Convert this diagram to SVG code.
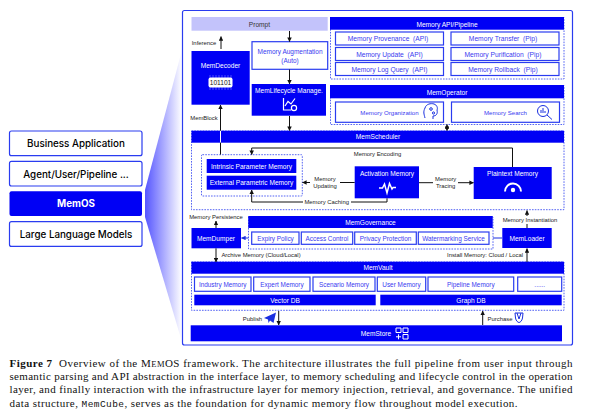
<svg xmlns="http://www.w3.org/2000/svg" width="592" height="419" viewBox="0 0 592 419">
<defs>
<linearGradient id="fan" x1="0" y1="0" x2="1" y2="0"><stop offset="0" stop-color="#5555ff"/><stop offset="1" stop-color="#ffffff"/></linearGradient>
<marker id="ah" viewBox="0 0 6 6" refX="5.5" refY="3" markerWidth="4.5" markerHeight="4.5" orient="auto-start-reverse" markerUnits="userSpaceOnUse"><path d="M0 0L6 3L0 6z" fill="#111"/></marker>
<marker id="ab" viewBox="0 0 6 6" refX="5.5" refY="3" markerWidth="4.5" markerHeight="4.5" orient="auto-start-reverse" markerUnits="userSpaceOnUse"><path d="M0 0L6 3L0 6z" fill="#1a2fe0"/></marker>
</defs>
<style>
text{font-family:"Liberation Sans","Noto Sans",sans-serif;text-anchor:middle;dominant-baseline:central;white-space:pre}
.f{fill:#0000f5}
.o{fill:#fff;stroke:#2a3cf0;stroke-width:1.2}
.d{fill:#fff;stroke:#2a3cf0;stroke-width:.8;stroke-dasharray:1.6 1.2}
.w{fill:#fff;font-size:6.6px}
.b{fill:#3a3af0;font-size:6.4px}
.a{fill:#3a3af0;font-size:6.1px}
.p{fill:#3a3af0;font-size:6.7px}
.k{fill:#222;font-size:5.9px}
.c{fill:none;stroke:#111;stroke-width:1}
.cb{fill:none;stroke:#1a2fe0;stroke-width:1}
.cap{font-family:"Liberation Serif",serif;font-size:11px;text-anchor:start;dominant-baseline:auto;fill:#111}
.i{fill:none;stroke:#fff;stroke-width:1.2}
.ib{fill:none;stroke:#1a2fe0;stroke-width:1}
.l{font-family:Inter,"Liberation Sans",sans-serif;fill:#000;font-size:9.8px;font-weight:500}
</style>
<polygon points="145,190 182,50 182,342 145,217" fill="url(#fan)"/>
<rect x="182.500" y="10.500" width="390" height="334.500" rx="2" fill="#fff" stroke="#2a3cf0" stroke-width="1.200"/>

<g id="left-stack">
<g id="business-application"><rect class="o" x="9.500" y="131" width="132.500" height="24.700" rx="2"/><text class="l" x="76" y="143.500">Business Application</text></g>
<g id="agent-user-pipeline"><rect class="o" x="9.500" y="161.300" width="132.500" height="24.700" rx="2"/><text class="l" x="76" y="174">Agent/User/Pipeline ...</text></g>
<g id="memos"><rect class="f" x="9.500" y="191.300" width="132.500" height="24.700" rx="2"/><text class="l" x="76" y="203.500" style="fill:#fff;font-weight:700">MemOS</text></g>
<g id="large-language-models"><rect class="o" x="9.500" y="221.700" width="132.500" height="24.700" rx="2"/><text class="l" x="76" y="234.500">Large Language Models</text></g>
</g>

<g id="prompt"><rect x="191.500" y="17" width="136.200" height="13.700" fill="#c3c3fb"/><text x="259.500" y="24" style="font-size:6.600px;fill:#333">Prompt</text></g>

<g id="memory-api-pipeline">
<rect class="d" x="330.500" y="17.500" width="233.500" height="61.500"/>
<rect class="f" x="330" y="17" width="234" height="12.700"/><text class="w" x="447" y="24">Memory API/Pipeline</text>
<rect class="o" x="335.500" y="32" width="108" height="13"/><text class="p" x="388" y="38.700">Memory Provenance  (API)</text>
<rect class="o" x="335.500" y="47.500" width="108" height="13"/><text class="p" x="389.500" y="54">Memory Update  (API)</text>
<rect class="o" x="335.500" y="62.500" width="108" height="13"/><text class="p" x="389.500" y="69">Memory Log Query  (API)</text>
<rect class="o" x="451" y="32" width="108" height="13"/><text class="p" x="503" y="38.700">Memory Transfer  (Pip)</text>
<rect class="o" x="451" y="47.500" width="108" height="13"/><text class="p" x="503" y="54">Memory Purification  (Pip)</text>
<rect class="o" x="451" y="62.500" width="108" height="13"/><text class="p" x="503" y="69">Memory Rollback  (Pip)</text>
</g>

<g id="memoperator">
<rect class="d" x="330.500" y="85.500" width="233.500" height="39"/>
<rect class="f" x="330" y="85" width="234" height="13.300"/><text class="w" x="447" y="92">MemOperator</text>
<rect class="o" x="335.500" y="102" width="108" height="20.300"/><text class="a" x="389.500" y="112">Memory Organization</text>
<path class="ib" d="M425 118C424 114 423 112 425 108C426 104 431 103 434 104C437 105 438 108 437 110C438 114 436 116 433 116L433 119"/><circle class="ib" cx="431" cy="109" r="1.300"/><circle class="ib" cx="433.500" cy="113" r="1.100"/>
<rect class="o" x="451.500" y="102" width="108" height="20.300"/><text class="a" x="505.500" y="112">Memory Search</text>
<circle class="ib" cx="543" cy="111" r="5.500" stroke-width="1.300"/><path class="ib" d="M547 115L552 119.500" stroke-width="1.500"/><path class="ib" d="M541 113V110M543 113V108M545 113V111"/>
</g>

<g id="memdecoder"><rect class="f" x="191.500" y="51" width="58.200" height="53.700"/><text class="w" x="220.500" y="65.500">MemDecoder</text>
<path d="M210 75v15M213 75v15M216 75v15M219 75v15M222 75v15M225 75v15M228 75v15M231 75v15" stroke="#9a9aff" stroke-width=".5"/>
<rect x="208.500" y="77.500" width="24" height="10" rx="2" fill="#fff"/><text x="220.500" y="82.700" style="font-size:6.600px;fill:#111">101101</text></g>

<g id="memory-augmentation"><rect class="o" x="252" y="41.700" width="75.700" height="27.600"/><text class="b" x="290" y="51.500" style="font-size:6.500px">Memory Augmentation</text><text class="b" x="290" y="60">(Auto)</text></g>

<g id="memlifecycle"><rect class="f" x="251.700" y="84" width="74.300" height="31.700"/><text class="w" x="289" y="90">MemLifecycle Manage.</text>
<path class="i" d="M283.500 98V110H291M285 106L288 101.500L291 104L295 98.500"/><circle class="i" cx="294" cy="108" r="2.600" stroke-width=".9"/></g>

<g id="memscheduler">
<rect class="d" x="191.500" y="131" width="372.500" height="78.700"/>
<rect class="f" x="191.500" y="130.700" width="372.500" height="12"/><text class="w" x="378" y="136.700">MemScheduler</text>
</g>

<g id="parameter-memory">
<rect class="d" x="201.500" y="154.700" width="100.800" height="41.300" rx="1"/>
<g id="intrinsic-parameter-memory"><rect class="f" x="206.700" y="159" width="89.600" height="14"/><text class="w" x="251.500" y="166">Intrinsic Parameter Memory</text></g>
<g id="external-parametric-memory"><rect class="f" x="206.700" y="175.700" width="89.600" height="14"/><text class="w" x="251.500" y="182.700">External Parametric Memory</text></g>
</g>

<g id="activation-memory"><rect class="f" x="354.700" y="166.300" width="64.300" height="32"/><text class="w" x="387" y="173">Activation Memory</text>
<path d="M379 188H382.500L384.500 184L387 193L389.500 183.500L392 189L393 187.500H396" fill="none" stroke="#fff" stroke-width="1.500"/></g>

<g id="plaintext-memory"><rect class="f" x="473.700" y="167" width="78" height="32"/><text class="w" x="512.500" y="173">Plaintext Memory</text>
<path d="M505 191.500A8 8 0 0 1 521 191.500" fill="none" stroke="#fff" stroke-width="2"/><circle cx="513" cy="190" r="2.200" fill="#fff"/></g>

<g id="memgovernance">
<rect class="d" x="248.500" y="217" width="244.500" height="32"/>
<rect class="f" x="248.300" y="216" width="244.400" height="12"/><text class="w" x="370.500" y="222">MemGovernance</text>
<rect class="o" x="251.700" y="232" width="47.300" height="12.300"/><text class="b" x="275.500" y="238">Expiry Policy</text>
<rect class="o" x="301.300" y="232" width="51.400" height="12.300"/><text class="b" x="327" y="238">Access Control</text>
<rect class="o" x="354.700" y="232" width="61.600" height="12.300"/><text class="b" x="385.500" y="238">Privacy Protection</text>
<rect class="o" x="418.300" y="232" width="70.700" height="12.300"/><text class="b" x="453.500" y="238">Watermarking Service</text>
</g>

<g id="memdumper"><rect class="f" x="191.500" y="228" width="49.500" height="20.300"/><text class="w" x="216" y="238">MemDumper</text></g>
<g id="memloader"><rect class="f" x="502.300" y="228" width="49.400" height="20"/><text class="w" x="527" y="238">MemLoader</text></g>

<g id="memvault">
<rect class="d" x="191.500" y="262" width="372.500" height="48.300"/>
<rect class="f" x="191.500" y="261.700" width="372.500" height="12"/><text class="w" x="378" y="267.700">MemVault</text>
<rect class="o" x="194.500" y="277" width="56.500" height="14.300"/><text class="b" x="222.700" y="284">Industry Memory</text>
<rect class="o" x="253.700" y="277" width="56.300" height="14.300"/><text class="b" x="282" y="284">Expert Memory</text>
<rect class="o" x="313" y="277" width="62" height="14.300"/><text class="b" x="344" y="284">Scenario Memory</text>
<rect class="o" x="377.300" y="277" width="48.400" height="14.300"/><text class="b" x="401.500" y="284">User Memory</text>
<rect class="o" x="428" y="277" width="85.700" height="14.300"/><text class="b" x="470.800" y="284">Pipeline Memory</text>
<rect class="o" x="517.700" y="277" width="44" height="14.300"/><text class="b" x="539.700" y="284">......</text>
<rect class="f" x="194.300" y="294.700" width="181.400" height="10.600"/><text class="w" x="285" y="300">Vector DB</text>
<rect class="f" x="380.300" y="294.700" width="181.400" height="10.600"/><text class="w" x="471" y="300">Graph DB</text>
</g>

<g id="memstore"><rect class="f" x="190.700" y="325.300" width="371.300" height="16"/><text class="w" x="376" y="333">MemStore</text>
<path d="M396 328h5v4.500h-5zM403 328h5v4.500h-5zM403 334.500h5v4.500h-5zM396 336.800h5M398.500 334.300v5" fill="none" stroke="#fff" stroke-width="1"/></g>

<g id="connectors">
<path class="c" d="M221 49V36.500" marker-end="url(#ah)"/>
<path class="c" d="M289.500 31V41.500" marker-end="url(#ah)"/>
<path class="c" d="M289.500 69.500V84" marker-end="url(#ah)"/>
<path class="c" d="M289.500 116V130.500" marker-end="url(#ah)"/>
<path class="c" d="M447 124.500V130.500" marker-start="url(#ah)" marker-end="url(#ah)"/>
<path d="M220.500 130.700V142.700" stroke="#fff" fill="none"/>
<path class="c" d="M220.500 130.700V105" marker-end="url(#ah)"/>
<path class="c" d="M220.500 142.700V154.500"/>
<path class="c" d="M512.500 167V148H251.700V154.500" marker-end="url(#ah)"/>
<path class="c" d="M354.700 182.500H302.500" marker-end="url(#ah)"/>
<path class="c" d="M419 182.700H473.500" marker-end="url(#ah)"/>
<path class="c" d="M387 198.300V202H251.700V190" marker-end="url(#ah)"/>
<path class="c" d="M216 221V228" marker-start="url(#ah)"/>
<path class="cb" d="M248.500 238H241.500" marker-end="url(#ab)"/>
<path class="cb" d="M493 238H502"/>
<path class="c" d="M216 248.300V262" marker-end="url(#ah)"/>
<path class="c" d="M527 262V248.500" marker-end="url(#ah)"/>
<path class="c" d="M527 216V210.500" marker-end="url(#ah)"/>
<path class="c" d="M527 224V228"/>
<path class="c" d="M278.700 311V325" marker-end="url(#ah)"/>
<path class="c" d="M482.700 325V311" marker-end="url(#ah)"/>
</g>

<g id="labels">
<text class="k" x="204" y="43">Inference</text>
<text class="k" x="204" y="118">MemBlock</text>
<rect x="352" y="150" width="51" height="8" fill="#fff"/>
<text class="k" x="377.500" y="154">Memory Encoding</text>
<rect x="310" y="175" width="30" height="15" fill="#fff"/>
<text class="k" x="325" y="179">Memory</text><text class="k" x="325" y="186">Updating</text>
<rect x="433" y="175" width="25" height="15" fill="#fff"/>
<text class="k" x="445.700" y="179">Memory</text><text class="k" x="445.700" y="186">Tracing</text>
<rect x="303" y="198" width="48" height="8" fill="#fff"/>
<text class="k" x="326.700" y="202">Memory Caching</text>
<text class="k" x="216" y="217">Memory Persistence</text>
<text class="k" x="530" y="220">Memory Instantiation</text>
<text class="k" x="261" y="255">Archive Memory (Cloud/Local)</text>
<text class="k" x="485" y="255">Install Memory: Cloud / Local</text>
<text class="k" x="252.500" y="319">Publish</text>
<path d="M264 318L276 312.500L273.500 323L270 320.500L268.500 323L268 319.500z" fill="#1a2fe0"/>
<text class="k" x="500" y="318.500">Purchase</text>
<path class="ib" d="M515 313H523L522.500 318C522 321 520 322.500 519 322.500C518 322.500 516 321 515.500 318zM517 313L519 319L521 313"/>
</g>

<g id="caption">
<text class="cap" x="9.500" y="367" textLength="563" lengthAdjust="spacing"><tspan font-weight="700">Figure 7</tspan>  Overview of the M<tspan font-size="8.500px">EM</tspan>OS framework. The architecture illustrates the full pipeline from user input through</text>
<text class="cap" x="9.500" y="380" textLength="563" lengthAdjust="spacing">semantic parsing and API abstraction in the interface layer, to memory scheduling and lifecycle control in the operation</text>
<text class="cap" x="9.500" y="393" textLength="563" lengthAdjust="spacing">layer, and finally interaction with the infrastructure layer for memory injection, retrieval, and governance. The unified</text>
<text class="cap" x="9.500" y="407" textLength="508" lengthAdjust="spacing">data structure, <tspan font-family="Liberation Mono" font-size="9.500px">MemCube</tspan>, serves as the foundation for dynamic memory flow throughout model execution.</text>
</g>
</svg>
